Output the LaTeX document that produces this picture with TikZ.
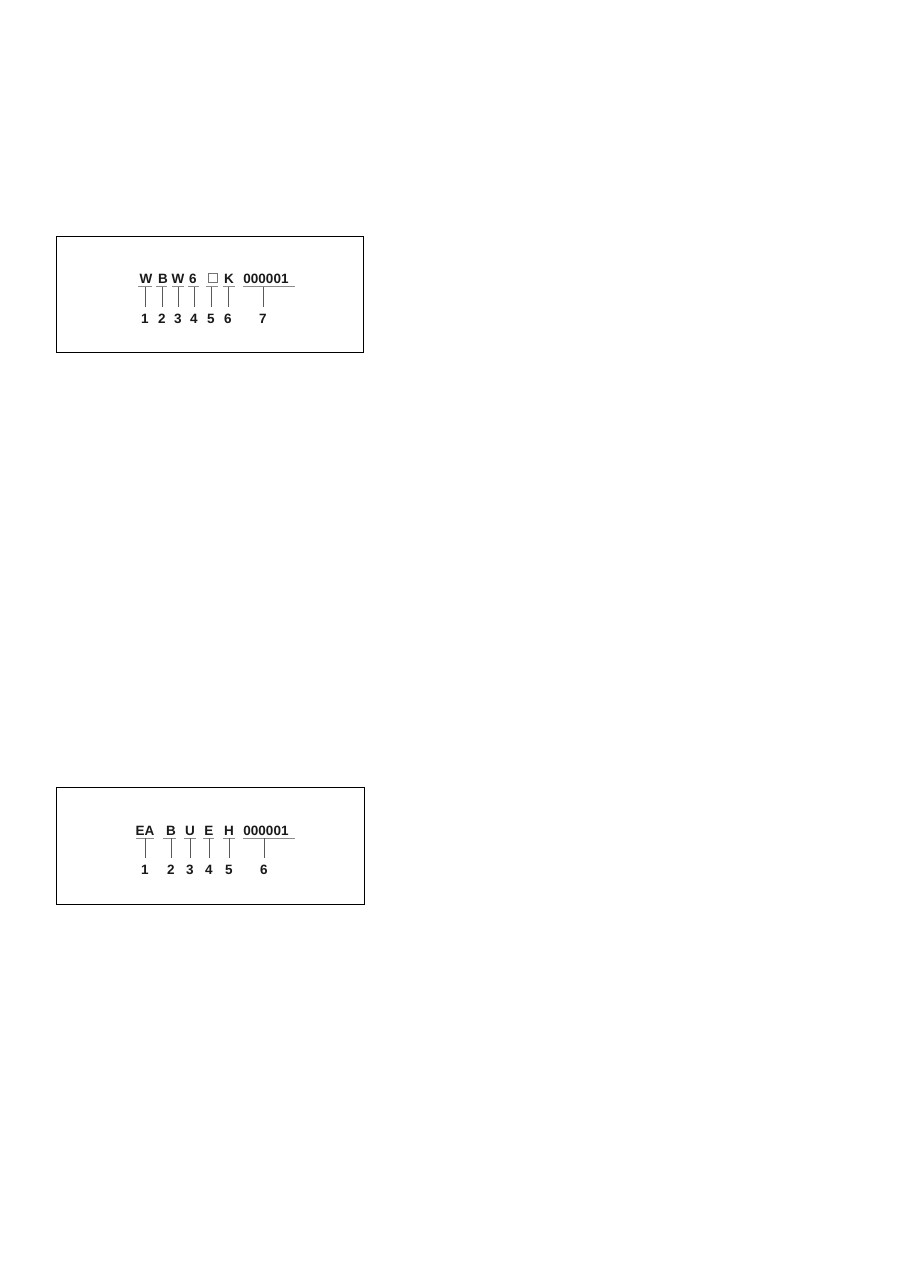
\documentclass[tikz,border=0pt]{standalone}
\usepackage{fontspec}
\setmainfont{Liberation Sans}
\begin{document}
\begin{tikzpicture}[x=1pt,y=-1pt,
  frame/.style={draw=black,line width=1pt},
  code/.style={font=\fontsize{13.5}{14}\selectfont\bfseries,inner sep=0pt,anchor=base,text=black!90},
  num/.style={font=\fontsize{13.5}{14}\selectfont\bfseries,inner sep=0pt,anchor=base,text=black!90},
  uline/.style={draw=black!45,line width=1pt},
  lead/.style={draw=black!65,line width=0.7pt}]
\useasboundingbox (0,0) rectangle (910,1286);
% ---------- Box 1 ----------
\node[frame,minimum width=307pt,minimum height=116pt,inner sep=0pt,anchor=north west] (box1) at (55.5,236) {};
\foreach \i/\x/\t/\a/\b/\n in {1/146/W/138/152/145, 2/163/B/156/167/162, 3/178/W/172/184/178, 4/193/6/188/199/194, 6/229/K/223/235/228, 7/266/000001/243/295/263}{
  \node[code] (a\i) at (\x,283) {\t};
  \coordinate (ua\i) at (\a,286.5);
  \coordinate (ub\i) at (\b,286.5);
  \draw[uline] (ua\i) -- (ub\i);
  \node[num] (n\i) at (\n,323) {\i};
  \coordinate (m\i) at (\n,286.5);
  \coordinate (e\i) at (\n,307);
  \draw[lead] (m\i) -- (e\i);
}
\node[draw=black!55,line width=0.6pt,fill=white,minimum width=9pt,minimum height=9pt,inner sep=0pt] (a5) at (212.5,278) {};
\coordinate (ua5) at (206,286.5);
\coordinate (ub5) at (218,286.5);
\draw[uline] (ua5) -- (ub5);
\node[num] (n5) at (211,323) {5};
\coordinate (m5) at (211.5,286.5);
\coordinate (e5) at (211.5,307);
\draw[lead] (m5) -- (e5);
% ---------- Box 2 ----------
\node[frame,minimum width=308pt,minimum height=117pt,inner sep=0pt,anchor=north west] (box2) at (55.5,787) {};
\foreach \i/\x/\t/\a/\b/\n in {1/145/EA/136/154/145, 2/171/B/163/176/171, 3/190/U/184/196/190, 4/209/E/203/214/209, 5/229/H/223/235/229, 6/266/000001/243/295/264}{
  \node[code] (c\i) at (\x,835) {\t};
  \coordinate (va\i) at (\a,838);
  \coordinate (vb\i) at (\b,838);
  \draw[uline] (va\i) -- (vb\i);
  \node[num] (p\i) at (\n,874) {\i};
  \coordinate (q\i) at (\n,838);
  \coordinate (r\i) at (\n,858);
  \draw[lead] (q\i) -- (r\i);
}
\end{tikzpicture}
\end{document}
